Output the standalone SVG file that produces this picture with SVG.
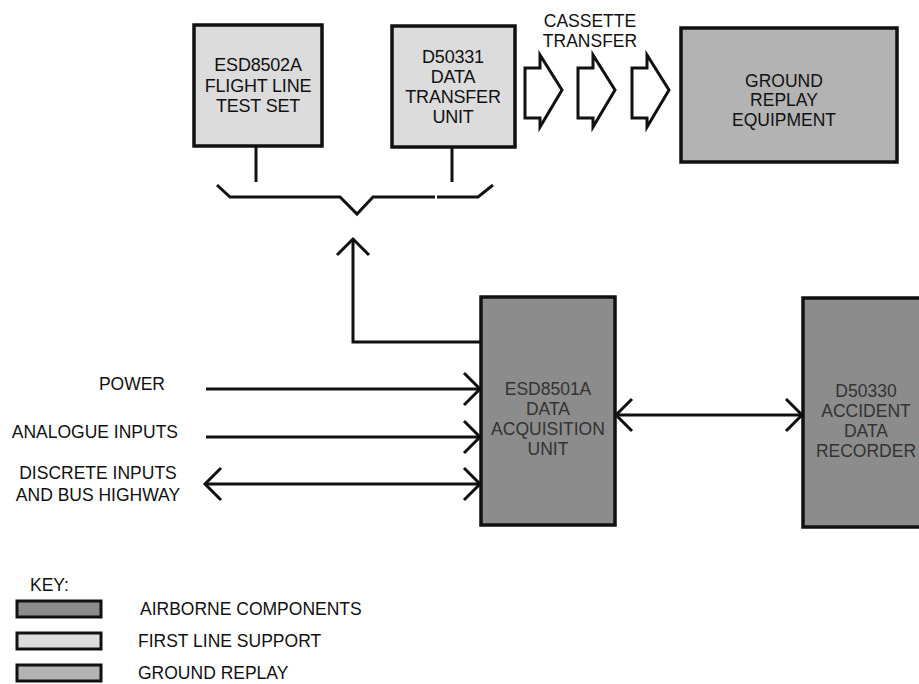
<svg xmlns="http://www.w3.org/2000/svg" width="919" height="684" viewBox="0 0 919 684">
<style>
text{font-family:"Liberation Sans",Arial,sans-serif;font-size:17.5px;fill:#111}
.big{font-size:18px;letter-spacing:-0.2px}
.c{text-anchor:middle}
.e{text-anchor:end}
.box{stroke:#111;stroke-width:3.5}
.air{fill:#8c8c8c}
.fls{fill:#dcdcdc}
.gr{fill:#b3b3b3}
.dk{fill:#333}
.ln{stroke:#111;stroke-width:3;fill:none}
.blk{fill:#fff;stroke:#111;stroke-width:3;stroke-linejoin:miter}
</style>
<defs>
<marker id="chev" markerUnits="userSpaceOnUse" viewBox="0 0 22 38" refX="19" refY="19" markerWidth="22" markerHeight="38" orient="auto-start-reverse">
<path d="M3,3 L19,19 L3,35" fill="none" stroke="#111" stroke-width="3"/>
</marker>
</defs>
<rect width="919" height="684" fill="#fff"/>

<g id="flight-line-test-set">
<rect class="box fls" x="194" y="25" width="128" height="121"/>
<text class="c big" x="258" y="71">ESD8502A</text>
<text class="c big" x="258" y="92">FLIGHT LINE</text>
<text class="c big" x="258" y="112">TEST SET</text>
</g>

<g id="data-transfer-unit">
<rect class="box fls" x="392" y="26" width="123" height="121"/>
<text class="c big" x="453" y="63">D50331</text>
<text class="c big" x="453" y="83">DATA</text>
<text class="c big" x="453" y="103">TRANSFER</text>
<text class="c big" x="453" y="123">UNIT</text>
</g>

<g id="cassette-transfer">
<text class="c" x="590" y="27">CASSETTE</text>
<text class="c" x="590" y="47">TRANSFER</text>
<path class="blk" d="M525,68 L540,68 L540,55 L562,90 L540,127 L540,118 L525,118 Z"/>
<path class="blk" d="M578,68 L593,68 L593,55 L615,90 L593,127 L593,118 L578,118 Z"/>
<path class="blk" d="M632,68 L647,68 L647,55 L669,90 L647,127 L647,118 L632,118 Z"/>
</g>

<g id="ground-replay-equipment">
<rect class="box gr" x="681" y="28" width="216" height="134"/>
<text class="c" x="784" y="87">GROUND</text>
<text class="c" x="784" y="106">REPLAY</text>
<text class="c" x="784" y="126">EQUIPMENT</text>
</g>

<g id="data-acquisition-unit">
<rect class="box air" x="481" y="297" width="134" height="228"/>
<text class="c dk" x="548" y="395">ESD8501A</text>
<text class="c dk" x="548" y="415">DATA</text>
<text class="c dk" x="548" y="435">ACQUISITION</text>
<text class="c dk" x="548" y="455">UNIT</text>
</g>

<g id="accident-data-recorder">
<rect class="box air" x="803" y="298" width="130" height="229"/>
<text class="c dk" x="866" y="397">D50330</text>
<text class="c dk" x="866" y="417">ACCIDENT</text>
<text class="c dk" x="866" y="437">DATA</text>
<text class="c dk" x="866" y="457">RECORDER</text>
</g>

<g id="input-labels">
<text class="e" x="165" y="390">POWER</text>
<text class="e" x="178" y="438">ANALOGUE INPUTS</text>
<text class="c" x="98" y="479">DISCRETE INPUTS</text>
<text class="c" x="98" y="501">AND BUS HIGHWAY</text>
</g>

<g id="connectors">
<line class="ln" x1="256" y1="146" x2="256" y2="182"/>
<line class="ln" x1="452" y1="147" x2="452" y2="182"/>
<polyline class="ln" points="217,185 230,197 340,197 357,214 373,197 435,197"/>
<polyline class="ln" points="437,197 478,197 493,185"/>
<polyline class="ln" points="481,342 353,342 353,239" marker-end="url(#chev)"/>
<line class="ln" x1="206" y1="389" x2="480" y2="389" marker-end="url(#chev)"/>
<line class="ln" x1="206" y1="437" x2="480" y2="437" marker-end="url(#chev)"/>
<line class="ln" x1="205" y1="484" x2="480" y2="484" marker-start="url(#chev)" marker-end="url(#chev)"/>
<line class="ln" x1="616" y1="415" x2="802" y2="415" marker-start="url(#chev)" marker-end="url(#chev)"/>
</g>

<g id="key">
<text x="30" y="591">KEY:</text>
<rect class="box air" x="17" y="601" width="84" height="16" style="stroke-width:3"/>
<text x="140" y="615">AIRBORNE COMPONENTS</text>
<rect class="box fls" x="17" y="633" width="84" height="16" style="stroke-width:3"/>
<text x="138" y="647">FIRST LINE SUPPORT</text>
<rect class="box gr" x="17" y="665" width="84" height="16" style="stroke-width:3"/>
<text x="138" y="679">GROUND REPLAY</text>
</g>
</svg>
